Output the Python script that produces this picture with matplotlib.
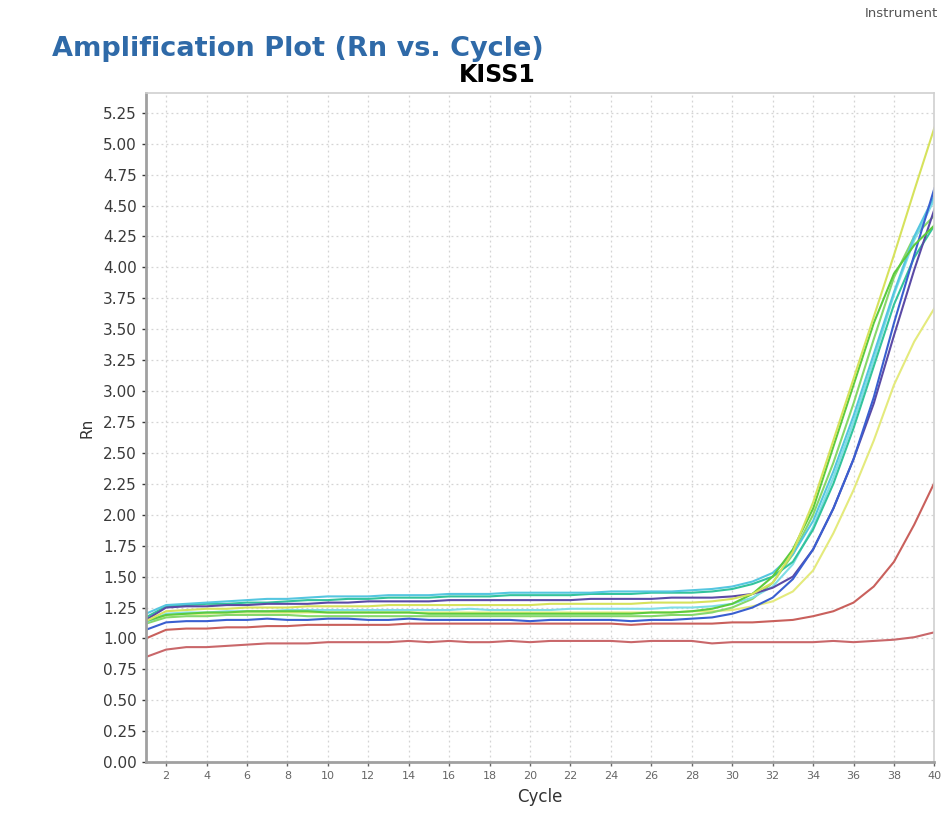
import matplotlib
matplotlib.use("Agg")
import matplotlib.pyplot as plt
from matplotlib.ticker import FormatStrFormatter

plt.rcParams['font.family'] = ['DejaVu Sans']

cycles = list(range(1, 41))

# Rn per well, cycles 1..40
cyan = [1.20, 1.27, 1.28, 1.29, 1.30, 1.31, 1.32, 1.32, 1.33, 1.34,
        1.34, 1.34, 1.35, 1.35, 1.35, 1.36, 1.36, 1.36, 1.37, 1.37,
        1.37, 1.37, 1.37, 1.38, 1.38, 1.38, 1.38, 1.39, 1.40, 1.42,
        1.46, 1.53, 1.68, 1.95, 2.35, 2.80, 3.30, 3.80, 4.25, 4.58]
teal = [1.17, 1.26, 1.27, 1.28, 1.28, 1.29, 1.29, 1.30, 1.31, 1.31,
        1.32, 1.32, 1.33, 1.33, 1.33, 1.34, 1.34, 1.34, 1.35, 1.35,
        1.35, 1.35, 1.36, 1.36, 1.36, 1.37, 1.37, 1.37, 1.38, 1.40,
        1.44, 1.50, 1.62, 1.88, 2.25, 2.70, 3.20, 3.70, 4.08, 4.34]
purple = [1.15, 1.25, 1.26, 1.26, 1.27, 1.27, 1.28, 1.28, 1.28, 1.29,
          1.29, 1.30, 1.30, 1.30, 1.30, 1.31, 1.31, 1.31, 1.31, 1.31,
          1.31, 1.31, 1.32, 1.32, 1.32, 1.32, 1.33, 1.33, 1.33, 1.34,
          1.36, 1.41, 1.50, 1.72, 2.05, 2.45, 2.90, 3.45, 3.98, 4.47]
yellow_a = [1.14, 1.22, 1.23, 1.24, 1.24, 1.25, 1.25, 1.25, 1.26, 1.26,
            1.26, 1.26, 1.27, 1.27, 1.27, 1.27, 1.27, 1.27, 1.27, 1.27,
            1.28, 1.28, 1.28, 1.28, 1.28, 1.29, 1.29, 1.29, 1.30, 1.32,
            1.36, 1.45, 1.70, 2.10, 2.60, 3.10, 3.60, 4.10, 4.62, 5.13]
light_cyan = [1.13, 1.20, 1.21, 1.21, 1.22, 1.22, 1.22, 1.23, 1.23, 1.23,
              1.23, 1.23, 1.23, 1.23, 1.23, 1.23, 1.24, 1.23, 1.23, 1.23,
              1.23, 1.24, 1.24, 1.24, 1.24, 1.24, 1.25, 1.25, 1.26, 1.28,
              1.33, 1.42, 1.60, 1.90, 2.30, 2.75, 3.25, 3.78, 4.22, 4.55]
green_a = [1.14, 1.19, 1.20, 1.21, 1.21, 1.22, 1.22, 1.22, 1.22, 1.21,
           1.21, 1.21, 1.21, 1.21, 1.20, 1.20, 1.20, 1.20, 1.20, 1.20,
           1.20, 1.20, 1.20, 1.20, 1.20, 1.21, 1.21, 1.22, 1.24, 1.28,
           1.36, 1.50, 1.72, 2.05, 2.55, 3.05, 3.55, 3.95, 4.18, 4.34]
green_b = [1.12, 1.17, 1.18, 1.18, 1.19, 1.19, 1.19, 1.19, 1.18, 1.18,
           1.18, 1.18, 1.18, 1.18, 1.18, 1.18, 1.18, 1.18, 1.18, 1.18,
           1.18, 1.18, 1.18, 1.18, 1.18, 1.18, 1.19, 1.19, 1.21, 1.25,
           1.32, 1.45, 1.68, 2.00, 2.42, 2.90, 3.42, 3.92, 4.25, 4.42]
yellow_b = [1.12, 1.19, 1.20, 1.20, 1.21, 1.21, 1.21, 1.21, 1.21, 1.21,
            1.21, 1.21, 1.21, 1.21, 1.21, 1.21, 1.21, 1.21, 1.21, 1.21,
            1.21, 1.21, 1.21, 1.21, 1.21, 1.21, 1.21, 1.22, 1.22, 1.23,
            1.26, 1.30, 1.38, 1.55, 1.85, 2.20, 2.60, 3.05, 3.40, 3.67]
blue = [1.07, 1.13, 1.14, 1.14, 1.15, 1.15, 1.16, 1.15, 1.15, 1.16,
        1.16, 1.15, 1.15, 1.16, 1.15, 1.15, 1.15, 1.15, 1.15, 1.14,
        1.15, 1.15, 1.15, 1.15, 1.14, 1.15, 1.15, 1.16, 1.17, 1.20,
        1.25, 1.33, 1.48, 1.72, 2.05, 2.45, 2.95, 3.55, 4.10, 4.64]
red = [1.00, 1.07, 1.08, 1.08, 1.09, 1.09, 1.10, 1.10, 1.11, 1.11,
       1.11, 1.11, 1.11, 1.12, 1.12, 1.12, 1.12, 1.12, 1.12, 1.12,
       1.12, 1.12, 1.12, 1.12, 1.11, 1.12, 1.12, 1.12, 1.12, 1.13,
       1.13, 1.14, 1.15, 1.18, 1.22, 1.29, 1.42, 1.62, 1.92, 2.26]
red_low = [0.85, 0.91, 0.93, 0.93, 0.94, 0.95, 0.96, 0.96, 0.96, 0.97,
           0.97, 0.97, 0.97, 0.98, 0.97, 0.98, 0.97, 0.97, 0.98, 0.97,
           0.98, 0.98, 0.98, 0.98, 0.97, 0.98, 0.98, 0.98, 0.96, 0.97,
           0.97, 0.97, 0.97, 0.97, 0.98, 0.97, 0.98, 0.99, 1.01, 1.05]

wells = [
    (red_low, '#c9676a'),
    (red, '#c9605c'),
    (yellow_b, '#e4ea7c'),
    (green_b, '#86d86a'),
    (light_cyan, '#7fdde6'),
    (teal, '#33c39c'),
    (purple, '#5b4aa6'),
    (cyan, '#55c6e0'),
    (blue, '#3a5fd0'),
    (green_a, '#5ccb3e'),
    (yellow_a, '#d6e25c'),
]

yticks = [i * 0.25 for i in range(22)]
xticks = list(range(2, 41, 2))

fig = plt.figure(figsize=(9.41, 8.16), dpi=100)
ax = fig.add_axes([0.155, 0.066, 0.838, 0.82])

for vals, col in wells:
    ax.plot(cycles, vals, color=col, lw=1.5)

ax.set_xlim(1, 40)
ax.set_ylim(0, 5.41)
ax.set_xticks(xticks)
ax.set_yticks(yticks)
ax.yaxis.set_major_formatter(FormatStrFormatter('%.2f'))
ax.tick_params(axis='y', labelsize=11, colors='#3a3a3a', length=3, width=1)
ax.tick_params(axis='x', labelsize=8, colors='#666666', length=3, width=1)
ax.grid(True, color='#d4d4d4', linestyle=(0, (1.5, 2.5)), linewidth=0.9)

for side in ['left', 'bottom']:
    ax.spines[side].set_color('#a0a0a0')
    ax.spines[side].set_linewidth(2)
for side in ['top', 'right']:
    ax.spines[side].set_color('#d0d0d0')
    ax.spines[side].set_linewidth(1.2)

ax.set_xlabel('Cycle', fontsize=12, color='#333333', labelpad=5)
ax.set_ylabel('Rn', fontsize=11, color='#333333', labelpad=6)

fig.text(0.055, 0.940, 'Amplification Plot (Rn vs. Cycle)', fontsize=19.5,
         fontweight='bold', color='#2f6aa8', va='center', ha='left')
fig.text(0.528, 0.908, 'KISS1', fontsize=17, fontweight='bold',
         color='black', va='center', ha='center')
fig.text(0.997, 0.983, 'Instrument', fontsize=9.5, color='#555555',
         va='center', ha='right')

fig.savefig('out.png', dpi=100, facecolor='white')
